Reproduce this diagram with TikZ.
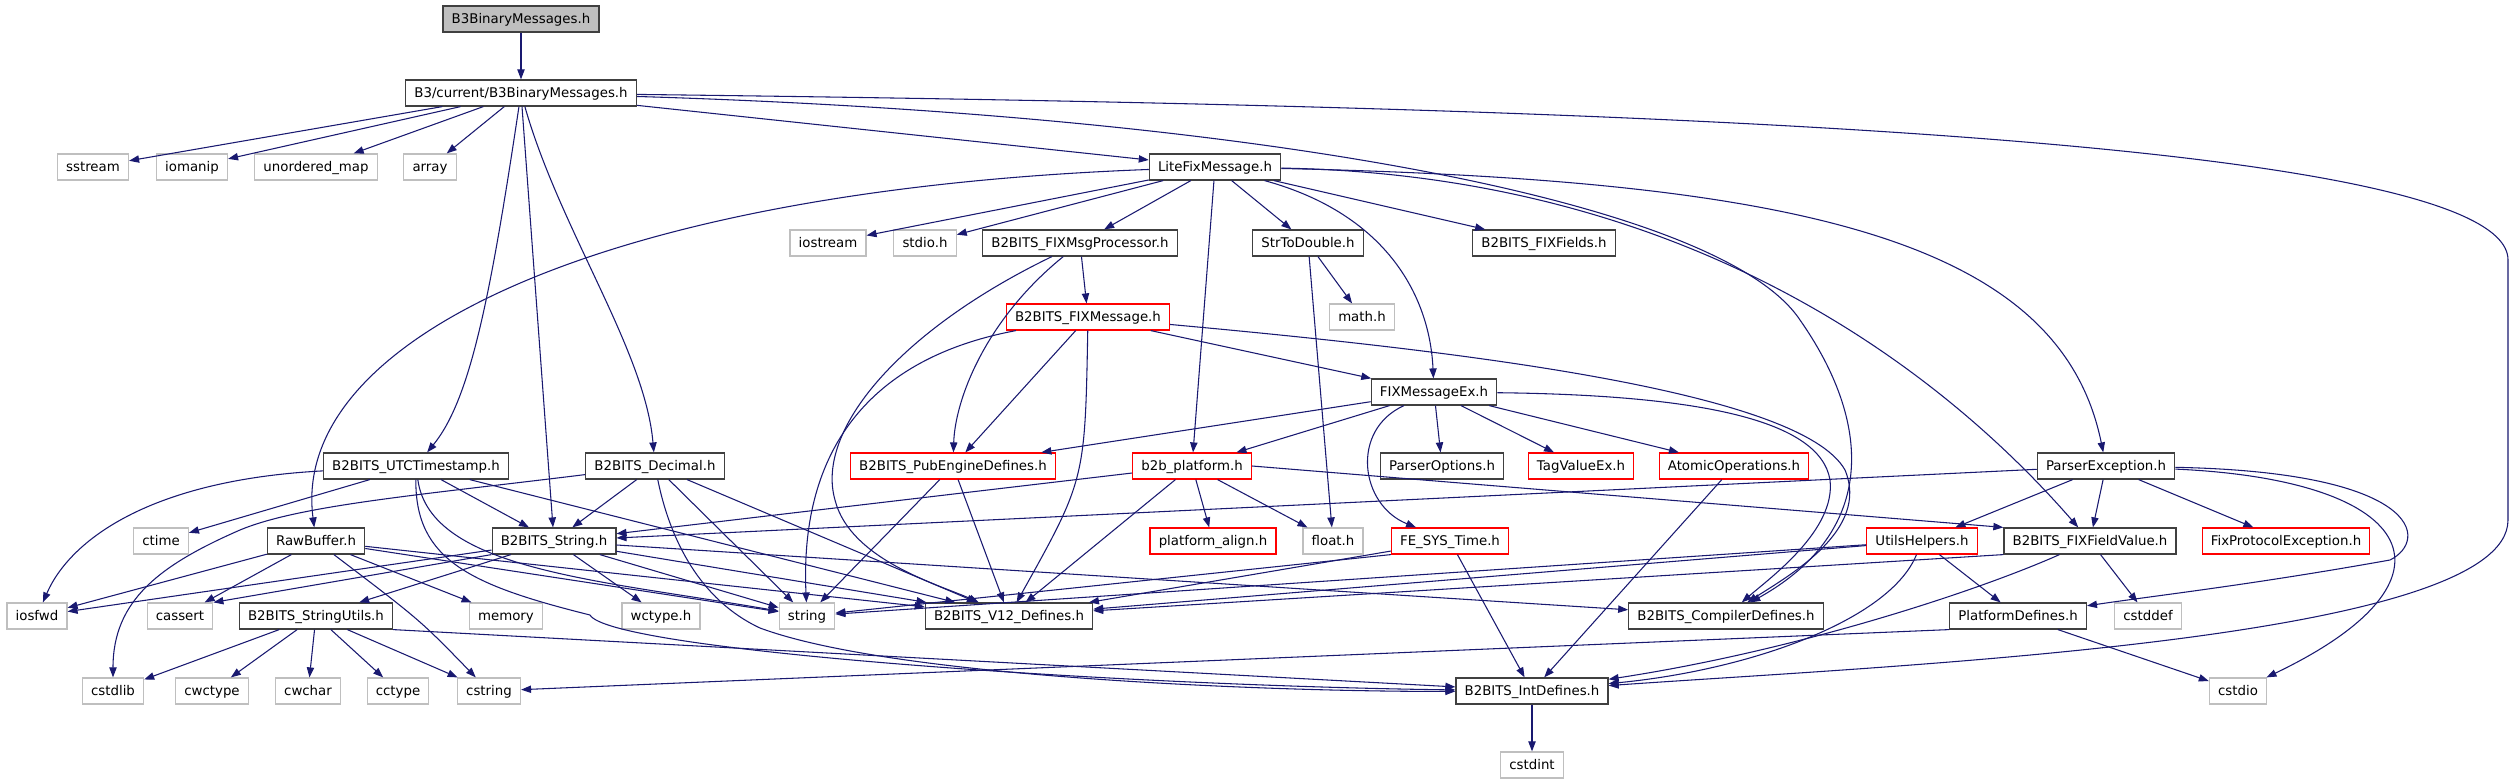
\documentclass[tikz,border=0pt]{standalone}
\usepackage{fontspec}
\setmainfont{DejaVu Sans}
\usetikzlibrary{arrows.meta}

\definecolor{edgeblue}{HTML}{191970}
\definecolor{sysgray}{HTML}{BFBFBF}
\definecolor{docgray}{HTML}{404040}

\begin{document}
\begin{tikzpicture}[
            x = 0.75pt, y = -0.75pt,
            every node/.style={draw=docgray, rectangle, line width=0.9pt, fill=white,
                font=\fontsize{10}{12}\selectfont, text height=7.3pt, text depth=0pt,
                minimum height=19.5pt, inner xsep=6.5pt, inner ysep=0pt},
            sys/.style={draw=sysgray},
            partial/.style={draw=red},
            dep/.style={draw=edgeblue, line width=0.8pt, -{Triangle[length=7.5pt, width=5.5pt]}},
            ]

        \useasboundingbox (0, 0) rectangle (2516, 784);

        \node[fill=sysgray] (top) at (521, 19) {B3BinaryMessages.h};
        \node (cur) at (521, 93) {B3/current/B3BinaryMessages.h};

        \node[sys] (sstream) at (93, 167) {sstream};
        \node[sys] (iomanip) at (192, 167) {iomanip};
        \node[sys] (umap) at (316, 167) {unordered\_map};
        \node[sys] (array) at (430, 167) {array};
        \node (lite) at (1215, 167) {LiteFixMessage.h};

        \node[sys] (iostream) at (828, 243) {iostream};
        \node[sys] (stdio) at (925, 243) {stdio.h};
        \node (msgproc) at (1080, 243) {B2BITS\_FIXMsgProcessor.h};
        \node (strtod) at (1308, 243) {StrToDouble.h};
        \node (fields) at (1544, 243) {B2BITS\_FIXFields.h};

        \node[partial] (fixmsg) at (1088, 317) {B2BITS\_FIXMessage.h};
        \node[sys] (math) at (1362, 317) {math.h};

        \node (msgex) at (1434, 392) {FIXMessageEx.h};

        \node (utc) at (416, 466) {B2BITS\_UTCTimestamp.h};
        \node (decimal) at (655, 466) {B2BITS\_Decimal.h};
        \node[partial] (pubeng) at (953, 466) {B2BITS\_PubEngineDefines.h};
        \node[partial] (b2bplat) at (1192, 466) {b2b\_platform.h};
        \node (popts) at (1442, 466) {ParserOptions.h};
        \node[partial] (tagval) at (1581, 466) {TagValueEx.h};
        \node[partial] (atomic) at (1734, 466) {AtomicOperations.h};
        \node (parserexc) at (2106, 466) {ParserException.h};

        \node[sys] (ctime) at (161, 541) {ctime};
        \node (rawbuf) at (316, 541) {RawBuffer.h};
        \node (bstring) at (554, 541) {B2BITS\_String.h};
        \node[partial] (palign) at (1213, 541) {platform\_align.h};
        \node[sys] (floath) at (1333, 541) {float.h};
        \node[partial] (fesys) at (1450, 541) {FE\_SYS\_Time.h};
        \node[partial] (utils) at (1922, 541) {UtilsHelpers.h};
        \node (fieldval) at (2090, 541) {B2BITS\_FIXFieldValue.h};
        \node[partial] (fixproto) at (2286, 541) {FixProtocolException.h};

        \node[sys] (iosfwd) at (37, 616) {iosfwd};
        \node[sys] (cassert) at (180, 616) {cassert};
        \node (strutils) at (316, 616) {B2BITS\_StringUtils.h};
        \node[sys] (memory) at (506, 616) {memory};
        \node[sys] (wctype) at (661, 616) {wctype.h};
        \node[sys] (string) at (807, 616) {string};
        \node (v12) at (1009, 616) {B2BITS\_V12\_Defines.h};
        \node (compiler) at (1726, 616) {B2BITS\_CompilerDefines.h};
        \node (platdef) at (2018, 616) {PlatformDefines.h};
        \node[sys] (cstddef) at (2148, 616) {cstddef};

        \node[sys] (cstdlib) at (113, 691) {cstdlib};
        \node[sys] (cwctype) at (212, 691) {cwctype};
        \node[sys] (cwchar) at (308, 691) {cwchar};
        \node[sys] (cctype) at (398, 691) {cctype};
        \node[sys] (cstring) at (489, 691) {cstring};
        \node (intdef) at (1532, 691) {B2BITS\_IntDefines.h};
        \node[sys] (cstdio) at (2238, 691) {cstdio};

        \node[sys] (cstdint) at (1532, 765) {cstdint};

        \draw[dep] (top) -- (cur);

        \draw[dep] (cur) -- (sstream);
        \draw[dep] (cur) -- (iomanip);
        \draw[dep] (cur) -- (umap);
        \draw[dep] (cur) -- (array);
        \draw[dep] (cur) -- (lite);
        \draw[dep] (cur) -- (bstring);
        \draw[dep] (cur) .. controls (490, 300) and (470, 400) .. (utc);
        \draw[dep] (cur) .. controls (560, 230) and (645, 350) .. (decimal);
        \draw[dep] (cur) .. controls (1250, 115) and (1720, 200) .. (1800, 320) .. controls (1870, 420) and (1880, 530) .. (compiler);
        \draw[dep] (cur) .. controls (1500, 105) and (2508, 130) .. (2508, 260) -- (2508, 520) .. controls (2508, 640) and (1900, 665) .. (intdef);

        \draw[dep] (lite) -- (iostream);
        \draw[dep] (lite) -- (stdio);
        \draw[dep] (lite) -- (msgproc);
        \draw[dep] (lite) -- (b2bplat);
        \draw[dep] (lite) -- (strtod);
        \draw[dep] (lite) -- (fields);
        \draw[dep] (lite) .. controls (600, 190) and (290, 340) .. (rawbuf);
        \draw[dep] (lite) .. controls (1390, 215) and (1430, 300) .. (msgex);
        \draw[dep] (lite) .. controls (1700, 175) and (1950, 380) .. (fieldval);
        \draw[dep] (lite) .. controls (1800, 180) and (2060, 240) .. (parserexc);

        \draw[dep] (msgproc) -- (fixmsg);
        \draw[dep] (msgproc) .. controls (985, 320) and (955, 400) .. (pubeng);
        \draw[dep] (msgproc) .. controls (900, 330) and (815, 430) .. (835, 500) .. controls (850, 560) and (940, 585) .. (v12);

        \draw[dep] (strtod) -- (math);
        \draw[dep] (strtod) -- (floath);

        \draw[dep] (fixmsg) -- (pubeng);
        \draw[dep] (fixmsg) -- (msgex);
        \draw[dep] (fixmsg) .. controls (1085, 480) .. (v12);
        \draw[dep] (fixmsg) .. controls (860, 360) and (800, 460) .. (string);
        \draw[dep] (fixmsg) .. controls (1450, 350) and (1800, 390) .. (1845, 470) .. controls (1870, 530) and (1790, 575) .. (compiler);

        \draw[dep] (msgex) -- (pubeng);
        \draw[dep] (msgex) -- (b2bplat);
        \draw[dep] (msgex) -- (popts);
        \draw[dep] (msgex) -- (tagval);
        \draw[dep] (msgex) -- (atomic);
        \draw[dep] (msgex) .. controls (1350, 430) and (1360, 505) .. (fesys);
        \draw[dep] (msgex) .. controls (1700, 395) and (1820, 420) .. (1830, 480) .. controls (1836, 530) and (1770, 578) .. (compiler);

        \draw[dep] (pubeng) -- (string);
        \draw[dep] (pubeng) -- (v12);

        \draw[dep] (b2bplat) -- (bstring);
        \draw[dep] (b2bplat) -- (palign);
        \draw[dep] (b2bplat) -- (floath);
        \draw[dep] (b2bplat) -- (v12);
        \draw[dep] (b2bplat.east) -- (fieldval.north west);

        \draw[dep] (atomic) -- (intdef);

        \draw[dep] (parserexc) -- (bstring);
        \draw[dep] (parserexc) -- (utils);
        \draw[dep] (parserexc) -- (fieldval);
        \draw[dep] (parserexc) -- (fixproto);
        \draw[dep] (parserexc) .. controls (2420, 472) and (2430, 540) .. (2390, 560) .. controls (2250, 585) and (2160, 595) .. (platdef);
        \draw[dep] (parserexc) .. controls (2420, 480) and (2470, 580) .. (cstdio);

        \draw[dep] (utc) -- (ctime);
        \draw[dep] (utc) -- (bstring);
        \draw[dep] (utc) -- (v12);
        \draw[dep] (utc) .. controls (150, 480) and (70, 540) .. (iosfwd);
        \draw[dep] (utc) .. controls (430, 570) and (600, 580) .. (string);
        \draw[dep] (utc) .. controls (415, 560) and (470, 585) .. (590, 615) .. controls (610, 650) and (1100, 685) .. (intdef);

        \draw[dep] (decimal) -- (bstring);
        \draw[dep] (decimal) -- (string);
        \draw[dep] (decimal) -- (v12);
        \draw[dep] (decimal) .. controls (420, 495) and (300, 505) .. (240, 530) .. controls (160, 565) and (113, 600) .. (cstdlib);
        \draw[dep] (decimal) .. controls (670, 540) and (700, 600) .. (760, 628) .. controls (900, 680) and (1300, 692) .. (intdef);

        \draw[dep] (rawbuf) -- (iosfwd);
        \draw[dep] (rawbuf) -- (cassert);
        \draw[dep] (rawbuf) -- (memory);
        \draw[dep] (rawbuf) -- (string);
        \draw[dep] (rawbuf) -- (v12);
        \draw[dep] (rawbuf) .. controls (420, 620) .. (cstring);

        \draw[dep] (bstring) -- (strutils);
        \draw[dep] (bstring) -- (iosfwd);
        \draw[dep] (bstring.south west) -- (cassert.north east);
        \draw[dep] (bstring) -- (wctype);
        \draw[dep] (bstring) -- (string);
        \draw[dep] (bstring) -- (v12);
        \draw[dep] (bstring) -- (compiler);

        \draw[dep] (fesys.south west) -- (string);
        \draw[dep] (fesys) -- (v12);
        \draw[dep] (fesys) -- (intdef);

        \draw[dep] (utils) -- (string);
        \draw[dep] (utils) -- (v12);
        \draw[dep] (utils) -- (platdef);
        \draw[dep] (utils) .. controls (1890, 620) and (1750, 670) .. (intdef);

        \draw[dep] (fieldval.south west) -- (v12);
        \draw[dep] (fieldval) -- (cstddef);
        \draw[dep] (fieldval) .. controls (1980, 590) and (1800, 650) .. (intdef);

        \draw[dep] (strutils) -- (cstdlib);
        \draw[dep] (strutils) -- (cwctype);
        \draw[dep] (strutils) -- (cwchar);
        \draw[dep] (strutils) -- (cctype);
        \draw[dep] (strutils) -- (cstring);
        \draw[dep] (strutils.south east) -- (intdef);

        \draw[dep] (platdef.south west) -- (cstring);
        \draw[dep] (platdef) -- (cstdio);

        \draw[dep] (intdef) -- (cstdint);
    \end{tikzpicture}
\end{document}
